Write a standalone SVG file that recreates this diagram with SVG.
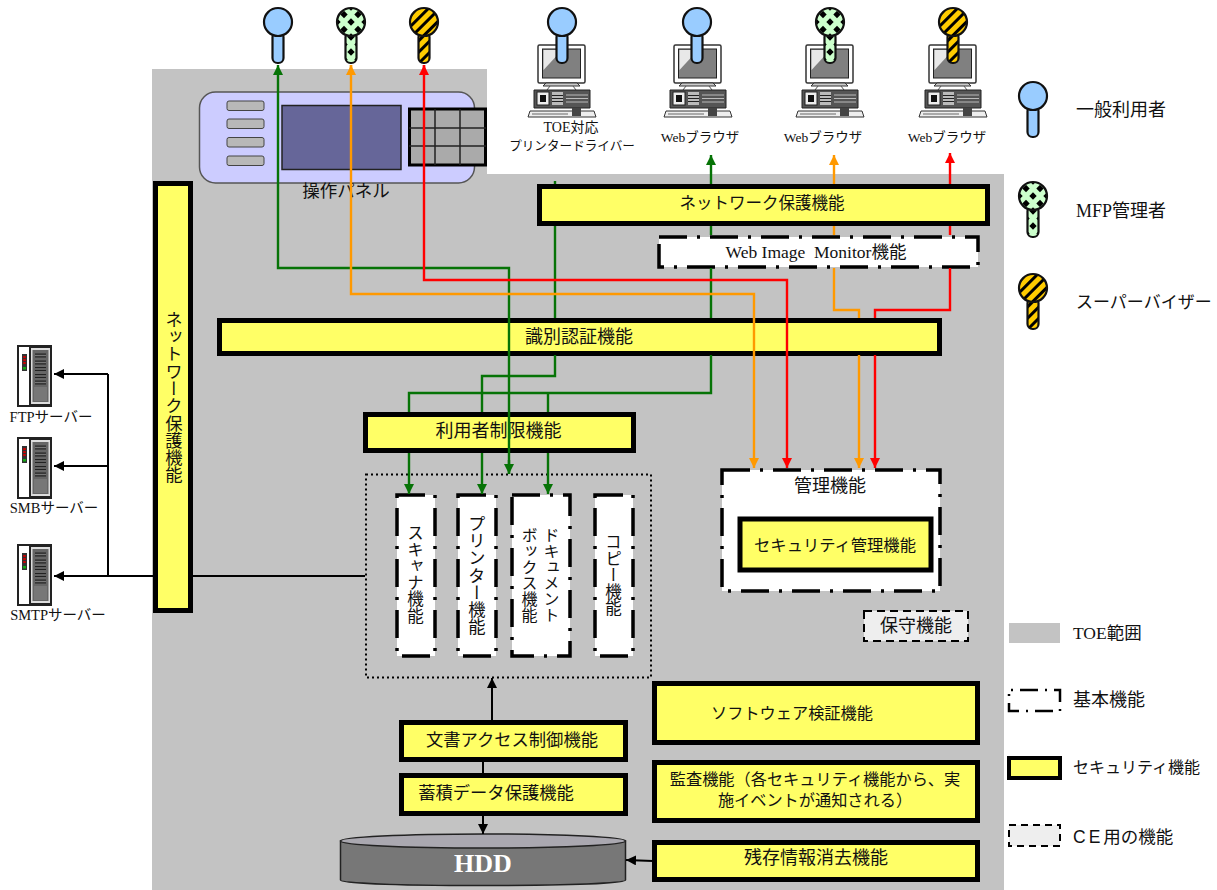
<svg xmlns="http://www.w3.org/2000/svg" width="1217" height="890" viewBox="0 0 1217 890">
<style>
text{font-family:"Liberation Serif","Noto Sans CJK JP",sans-serif;fill:#111;text-anchor:middle}
.v{writing-mode:vertical-rl;font-size:16.5px}
.sec{fill:#ffff66;stroke:#000;stroke-width:5}
.sec2{fill:#ffff66;stroke:#000;stroke-width:4}
.base{fill:#fff;stroke:#000;stroke-width:3.5;stroke-dasharray:28 10 3 10}
.ce{fill:#eeeeee;stroke:#000;stroke-width:2;stroke-dasharray:8 5}
.k{stroke:#111;stroke-width:2.2}
.g{fill:none;stroke:#067306;stroke-width:2.4}
.o{fill:none;stroke:#ff9900;stroke-width:2.4}
.r{fill:none;stroke:#ff0000;stroke-width:2.4}
.b{fill:none;stroke:#000;stroke-width:2}
.btn{fill:#b8b8b8;stroke:#444;stroke-width:1}
.l{text-anchor:start}
</style>
<defs>
<pattern id="dia" width="14" height="15" patternUnits="userSpaceOnUse">
<rect width="14" height="15" fill="#ccffcc"/>
<path d="M7,3.700L10.700,7.500L7,11.300L3.300,7.500z" fill="#000"/>
<path d="M0,-3.800L3.700,0L0,3.800zM14,-3.800L10.300,0L14,3.800zM0,11.200L3.700,15L0,18.800zM14,11.200L10.300,15L14,18.800z" fill="#000"/>
</pattern>
<pattern id="str" width="8" height="8" patternUnits="userSpaceOnUse" patternTransform="rotate(45)">
<rect width="8" height="8" fill="#ffcc00"/>
<rect width="3" height="8" fill="#000"/>
</pattern>
<g id="key">
<rect x="-5.500" y="10" width="11" height="31" rx="5" class="k"/>
<circle r="14" class="k"/>
</g>
<g id="pc">
<rect x="0" y="0" width="47" height="38" rx="1.500" fill="#fff" stroke="#333" stroke-width="1.500"/>
<rect x="4.500" y="4" width="38" height="29" fill="#808080" stroke="#222"/>
<path d="M5.500,5H24L5.500,25z" fill="#e8e8e8"/>
<path d="M8,38H39L42,41H5z" fill="#ccc" stroke="#333"/>
<path d="M12,41L9,45M35,41L38,45" stroke="#555"/>
<path d="M-4,45H52V63H-4z" fill="#555" stroke="#222"/>
<rect x="-1" y="47" width="12" height="13" fill="#eee" stroke="#222"/>
<rect x="2" y="50" width="6" height="7" fill="#111"/>
<rect x="14" y="47" width="11" height="13" fill="#bbb"/>
<path d="M14,50.500H25M14,53.500H25M14,56.500H25" stroke="#222" stroke-width="1"/>
<path d="M28,50H50M28,53.500H50M28,57H50" stroke="#bbb" stroke-width="1"/>
<path d="M-8,66H56L58,72H-10z" fill="#eee" stroke="#333"/>
<rect x="34" y="63" width="9" height="8" fill="#444"/>
<path d="M-6,69H30" stroke="#666"/>
</g>
<g id="srv">
<rect x="0" y="0" width="33" height="60" fill="#fff" stroke="#222" stroke-width="2"/>
<rect x="12" y="1" width="21" height="58" fill="#ddd" stroke="#222" stroke-width="2"/>
<rect x="14.500" y="4" width="16" height="52" fill="#666"/>
<path d="M17,9.500H28M17,16.500H28M17,23H28M17,30H28M17,36.500H28" stroke="#222" stroke-width="4"/>
<path d="M17,9.500H28M17,16.500H28M17,23H28M17,30H28M17,36.500H28" stroke="#777" stroke-width="1.500"/>
<path d="M16,41H29V55H16z" fill="#777"/>
<rect x="4" y="8" width="5" height="17" fill="#333"/>
<path d="M6.500,10v9" stroke="#d00000" stroke-width="2.500" stroke-dasharray="2 1"/>
<rect x="5" y="21" width="3" height="2.500" fill="#1a1"/>
</g>
<marker id="mg" markerUnits="userSpaceOnUse" markerWidth="11" markerHeight="11" refX="10" refY="5" orient="auto"><path d="M0,0L10,5L0,10z" fill="#067306"/></marker>
<marker id="mo" markerUnits="userSpaceOnUse" markerWidth="11" markerHeight="11" refX="10" refY="5" orient="auto"><path d="M0,0L10,5L0,10z" fill="#ff9900"/></marker>
<marker id="mr" markerUnits="userSpaceOnUse" markerWidth="11" markerHeight="11" refX="10" refY="5" orient="auto"><path d="M0,0L10,5L0,10z" fill="#ff0000"/></marker>
<marker id="mb" markerUnits="userSpaceOnUse" markerWidth="11" markerHeight="11" refX="10" refY="5" orient="auto"><path d="M0,0L10,5L0,10z" fill="#000"/></marker>
</defs>

<path id="toe-area" d="M152,69H487V174H1004V890H152z" fill="#c3c3c3"/>

<g id="panel">
<rect x="199.500" y="92" width="275" height="91" rx="16" fill="#ccccff" stroke="#555" stroke-width="1.500"/>
<rect x="227" y="101" width="37" height="9.500" rx="2" class="btn"/>
<rect x="227" y="119" width="37" height="9.500" rx="2" class="btn"/>
<rect x="227" y="137.500" width="37" height="9.500" rx="2" class="btn"/>
<rect x="227" y="156" width="37" height="9.500" rx="2" class="btn"/>
<rect x="282" y="105.500" width="119" height="64" fill="#666699" stroke="#222" stroke-width="1.500"/>
<rect x="409.500" y="109" width="76" height="56" fill="#aaaaaa" stroke="#000" stroke-width="3"/>
<path d="M435,109V165M460,109V165M409,128H486M409,146H486" stroke="#222" stroke-width="1.500"/>
<text x="346" y="197" font-size="17.500">操作パネル</text>
</g>

<g id="user-key"><use href="#key" x="278" y="22" fill="#99ccff"/></g>
<g id="admin-key"><use href="#key" x="351" y="22" fill="url(#dia)"/></g>
<g id="super-key"><use href="#key" x="424" y="22" fill="url(#str)"/></g>

<g id="printer-driver-pc">
<use href="#pc" x="538" y="45"/>
<use href="#key" x="562" y="22" fill="#99ccff"/>
<text x="571" y="132" font-size="14">TOE対応</text>
<text x="572" y="150" font-size="12.600">プリンタードライバー</text>
</g>
<g id="web-user">
<use href="#pc" x="674" y="45"/>
<use href="#key" x="697" y="22" fill="#99ccff"/>
<text x="700" y="142" font-size="13.500">Webブラウザ</text>
</g>
<g id="web-admin">
<use href="#pc" x="806" y="45"/>
<use href="#key" x="830" y="22" fill="url(#dia)"/>
<text x="823" y="142" font-size="13.500">Webブラウザ</text>
</g>
<g id="web-super">
<use href="#pc" x="929" y="45"/>
<use href="#key" x="953" y="22" fill="url(#str)"/>
<text x="947" y="142" font-size="13.500">Webブラウザ</text>
</g>

<g id="net-top"><rect x="539.500" y="186.500" width="448" height="37" class="sec"/><text x="762" y="209" font-size="16.500">ネットワーク保護機能</text></g>
<g id="wim"><rect x="659" y="237" width="319" height="30" class="base"/><text x="816" y="258" font-size="17.500" xml:space="preserve">Web Image  Monitor機能</text></g>
<g id="net-left"><rect x="155.500" y="183.500" width="35" height="427" class="sec"/><text x="172" y="397" class="v" style="font-size:17.300px">ネットワーク保護機能</text></g>
<g id="auth"><rect x="219.500" y="320.500" width="720" height="33" class="sec"/><text x="579" y="343" font-size="18">識別認証機能</text></g>
<g id="restrict"><rect x="365.500" y="414.500" width="268" height="36" class="sec"/><text x="498.500" y="437" font-size="18">利用者制限機能</text></g>
<g id="func-area"><rect x="366" y="474.500" width="285" height="203" fill="none" stroke="#000" stroke-width="2" stroke-dasharray="2 3"/></g>
<g id="scanner"><rect x="397" y="495" width="38" height="161" class="base"/><text x="414" y="574" class="v">スキャナ機能</text></g>
<g id="printer"><rect x="458" y="495" width="38" height="161" class="base"/><text x="475" y="575" class="v" style="font-size:17.300px">プリンター機能</text></g>
<g id="docbox"><rect x="512" y="495" width="58" height="161" class="base"/><text x="550" y="575" class="v" style="font-size:16px">ドキュメント</text><text x="528" y="575" class="v" style="font-size:16px">ボックス機能</text></g>
<g id="copy"><rect x="595" y="495" width="38" height="161" class="base"/><text x="612" y="575" class="v">コピー機能</text></g>

<g id="mgmt"><rect x="722" y="470" width="218" height="121" class="base"/><text x="830" y="492" font-size="18">管理機能</text></g>
<g id="sec-mgmt"><rect x="740" y="519" width="191" height="51" class="sec"/><text x="835" y="551" font-size="16.300">セキュリティ管理機能</text></g>
<g id="maint"><rect x="864" y="611" width="104" height="30" class="ce"/><text x="916" y="632" font-size="18">保守機能</text></g>
<g id="verify"><rect x="654.500" y="683.500" width="323" height="59" class="sec"/><text x="792" y="719" font-size="16.200">ソフトウェア検証機能</text></g>
<g id="audit"><rect x="654.500" y="762.500" width="323" height="58" class="sec"/><text x="815" y="785" font-size="16.200">監査機能（各セキュリティ機能から、実</text><text x="815" y="806" font-size="16.200">施イベントが通知される）</text></g>
<g id="wipe"><rect x="654.500" y="842.500" width="323" height="37" class="sec"/><text x="816" y="864" font-size="18">残存情報消去機能</text></g>
<g id="doc-access"><rect x="401.500" y="722.500" width="224" height="37" class="sec"/><text x="512" y="746" font-size="17.300">文書アクセス制御機能</text></g>
<g id="stored-data"><rect x="401.500" y="775.500" width="224" height="38" class="sec"/><text x="496" y="799" font-size="17.300">蓄積データ保護機能</text></g>
<g id="hdd">
<path d="M340.500,841V880C340.500,883 397,885.500 483,885.500S625.500,883 625.500,880V841z" fill="#777777" stroke="#222" stroke-width="1.500"/>
<ellipse cx="483" cy="841" rx="142.500" ry="7" fill="#aaa8b0" stroke="#222" stroke-width="1.500"/>
<text x="483" y="872" font-size="26" font-weight="bold" style="fill:#fff">HDD</text>
</g>

<g id="ftp"><use href="#srv" x="18" y="346"/><text x="51" y="422" font-size="14.500">FTPサーバー</text></g>
<g id="smb"><use href="#srv" x="18" y="438"/><text x="54" y="513" font-size="14.500">SMBサーバー</text></g>
<g id="smtp"><use href="#srv" x="18" y="545"/><text x="58" y="620" font-size="14.500">SMTPサーバー</text></g>

<g id="legend">
<use href="#key" x="1033" y="96" fill="#99ccff"/>
<text x="1076" y="116" font-size="18" class="l">一般利用者</text>
<use href="#key" x="1033" y="196" fill="url(#dia)"/>
<text x="1076" y="217" font-size="18" class="l">MFP管理者</text>
<use href="#key" x="1033" y="288" fill="url(#str)"/>
<text x="1076" y="308" font-size="17" class="l">スーパーバイザー</text>
<rect x="1009" y="623" width="51" height="20" fill="#c3c3c3"/>
<text x="1073" y="639" font-size="17.500" class="l">TOE範囲</text>
<rect x="1009" y="690" width="51" height="21" fill="#fff" stroke="#000" stroke-width="2.500" stroke-dasharray="18 7 2 7" stroke-dashoffset="23"/>
<text x="1073" y="706" font-size="18" class="l">基本機能</text>
<rect x="1009" y="758" width="51" height="20" class="sec2"/>
<text x="1073" y="773" font-size="16" class="l">セキュリティ機能</text>
<rect x="1009" y="825" width="51" height="21" fill="#eeeeee" stroke="#000" stroke-width="2" stroke-dasharray="7 5"/>
<text x="1073" y="843" font-size="17.500" class="l"><tspan style="font-family:'Liberation Sans',sans-serif" letter-spacing="3">CE</tspan>用の機能</text>
</g>

<g id="connectors">
<path class="g" d="M555,181V184M555,226V318M555,355V376H482V412M482,453V494" marker-end="url(#mg)"/>
<path class="g" d="M711,226V235M711,268V318M711,355V393H409V412M409,453V494" marker-end="url(#mg)"/>
<path class="g" d="M548,393V412M548,453V494" marker-end="url(#mg)"/>
<path class="g" d="M711,184V155" marker-end="url(#mg)"/>
<path class="g" d="M509,474V268H278V65" marker-end="url(#mg)"/>
<path class="g" d="M509,460V474" marker-end="url(#mg)"/>
<path class="o" d="M351,65V294H754V468" marker-end="url(#mo)"/>
<path class="o" d="M351,75V65" marker-end="url(#mo)"/>
<path class="r" d="M424,75V65" marker-end="url(#mr)"/>
<path class="r" d="M424,65V280H787V468" marker-end="url(#mr)"/>
<path class="o" d="M834,184V155" marker-end="url(#mo)"/>
<path class="o" d="M834,226V235M834,268V310H859V318M859,355V468" marker-end="url(#mo)"/>
<path class="r" d="M950,184V153" marker-end="url(#mr)"/>
<path class="r" d="M950,226V235M950,268V310H875V318M875,355V468" marker-end="url(#mr)"/>
<path class="b" d="M108,374V576M193,576H365"/>
<path class="b" d="M108,374H54" marker-end="url(#mb)"/>
<path class="b" d="M108,466H54" marker-end="url(#mb)"/>
<path class="b" d="M153,576H54" marker-end="url(#mb)"/>
<path class="b" d="M492,720V678" marker-end="url(#mb)"/>
<path class="b" d="M483,762V773"/>
<path class="b" d="M483,816V834" marker-end="url(#mb)"/>
<path class="b" d="M653,861L626,860" marker-end="url(#mb)"/>
</g>
</svg>
